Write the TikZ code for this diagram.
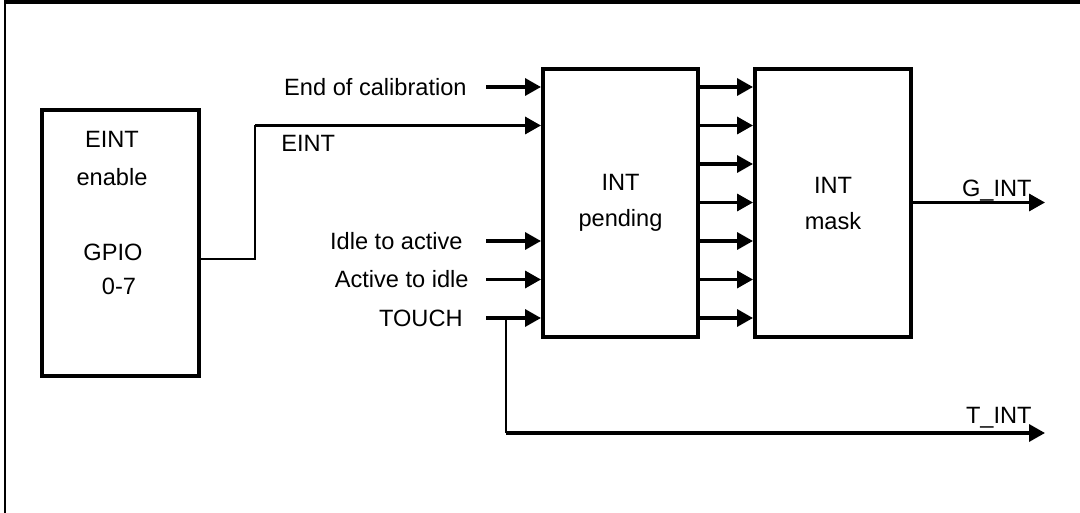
\documentclass[tikz,border=0pt]{standalone}
\usepackage{fontspec}
\setmainfont{Liberation Sans}
\usetikzlibrary{arrows.meta}

\tikzset{
  blk/.style={draw, line width=2pt, inner sep=0pt, align=center, font=\fontsize{11.8}{18}\selectfont},
  txt/.style={inner sep=0pt, font=\fontsize{11.8}{14}\selectfont},
  sig/.style={line width=1.7pt, -{Triangle[length=8pt,width=8.5pt]}},
  wire/.style={line width=0.8pt}
}

\begin{document}
\begin{tikzpicture}[x=0.5pt, y=-0.5pt]
\useasboundingbox (0,0) rectangle (1080,513);
\draw[line width=1.75pt] (4,2) -- (1080,2);
\draw[line width=1pt] (5,2) -- (5,513);

\node[blk, minimum width=78.5pt, minimum height=133pt] (gpio) at (120.5,243) {};
\node[txt, anchor=base] (gpioa) at (112,148) {EINT};
\node[txt, anchor=base] (gpiob) at (112,185) {enable};
\node[txt, anchor=base] (gpioc) at (113,260) {GPIO};
\node[txt, anchor=base] (gpiod) at (119,294) {0-7};

\node[blk, minimum width=77.5pt, minimum height=134pt] (pend) at (620.5,203) {INT\\pending};
\node[blk, minimum width=78pt, minimum height=134pt] (mask) at (833,203) {INT\\mask};

\foreach \y in {87,125.5,164,202.5,241,279.5,318}
  \draw[sig] (pend.east |- 0,\y) -- (mask.west |- 0,\y);

\foreach \n/\x/\y/\t in {endcal/467/87/End of calibration, idleact/463/241/Idle to active,
                         actidle/469/279.5/Active to idle, touch/463/318/TOUCH} {
  \node[txt, anchor=east] (\n) at (\x,\y) {\t};
  \coordinate (\n-in) at (486,\y);
  \draw[sig] (\n-in) -- (pend.west |- \n-in);
}

\node[txt, anchor=base west] (eintl) at (281,152) {EINT};
\coordinate (eintup) at (255,125.5);
\draw[wire] (gpio.east |- 0,259) -| (eintup);
\draw[sig] (eintup) -- (pend.west |- eintup);

\coordinate (gint) at (1045,202.5);
\draw[sig] (mask.east |- gint) -- (gint);
\node[txt, anchor=base east] (gintl) at (1032,197) {G\_INT};

\coordinate (tsplit) at (506,318);
\coordinate (tint) at (1045,433);
\draw[wire] (tsplit) -- (tsplit |- tint);
\draw[sig] (tsplit |- tint) -- (tint);
\node[txt, anchor=base east] (tintl) at (1032,423) {T\_INT};
\end{tikzpicture}
\end{document}
